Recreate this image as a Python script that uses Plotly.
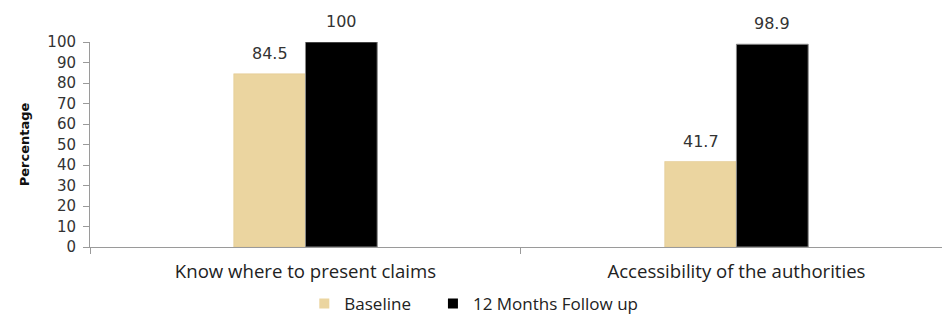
import plotly.graph_objects as go

categories = ["Know where to present claims", "Accessibility of the authorities"]
baseline = [84.5, 41.7]
follow_up = [100, 98.9]
y_ticks = [0, 10, 20, 30, 40, 50, 60, 70, 80, 90, 100]

series = [
    ("Baseline", baseline, "#ebd5a0", "#e0c68b", 0.5),
    ("12 Months Follow up", follow_up, "#000000", "#888888", 1),
]
value_font = dict(family="DejaVu Sans", size=16, color="#333333")

fig = go.Figure()
for name, values, fill, edge, edge_w in series:
    fig.add_trace(go.Bar(
        name=name, x=categories, y=values, showlegend=False,
        marker=dict(color=fill, line=dict(color=edge, width=edge_w)),
        offsetgroup=name,
    ))
    # small square legend keys
    fig.add_trace(go.Scatter(
        name=name + "\u2003", x=[None], y=[None], mode="markers",
        marker=dict(symbol="square", size=10, color=fill),
    ))

# value labels placed a little above each bar
offsets = {"Baseline": -0.5, "12 Months Follow up": 0.5}
bar_w = (1 - 0.667) / 2
for name, values, *_ in series:
    for i, (cat, v) in enumerate(zip(categories, values)):
        fig.add_annotation(
            x=i + offsets[name] * bar_w, y=v, text=f"{v:g}", showarrow=False,
            xref="x", yref="y", yanchor="bottom", yshift=9, font=value_font,
        )

fig.update_layout(
    width=942, height=322,
    margin=dict(l=90, r=0, t=42, b=75),
    paper_bgcolor="white", plot_bgcolor="white",
    barmode="group", bargap=0.667, bargroupgap=0,
    showlegend=True,
    legend=dict(orientation="h", xref="container", yref="container",
                x=0.512, xanchor="center", y=0.0, yanchor="bottom",
                font=dict(family="Open Sans", size=17, color="#222222"),
                itemwidth=30, traceorder="normal", tracegroupgap=0),
    xaxis=dict(
        range=[-0.5, 1.477], showline=True, linecolor="#9a9a9a", linewidth=1,
        ticks="outside", tickson="boundaries", ticklen=6, tickcolor="#9a9a9a",
        tickfont=dict(family="Open Sans", size=18.6, color="#222222"),
        ticklabelstandoff=8, showgrid=False,
    ),
    yaxis=dict(
        range=[0, 100], tickvals=y_ticks, showline=True, linecolor="#9a9a9a",
        linewidth=1, ticks="outside", ticklen=6, tickcolor="#9a9a9a",
        tickfont=dict(family="DejaVu Sans", size=15, color="#333333"),
        ticklabelstandoff=4, showgrid=False, zeroline=False,
        title=dict(text="<b>Percentage</b>", standoff=14,
                   font=dict(family="DejaVu Sans", size=13, color="#111111")),
    ),
)

fig.write_html("out.html")
